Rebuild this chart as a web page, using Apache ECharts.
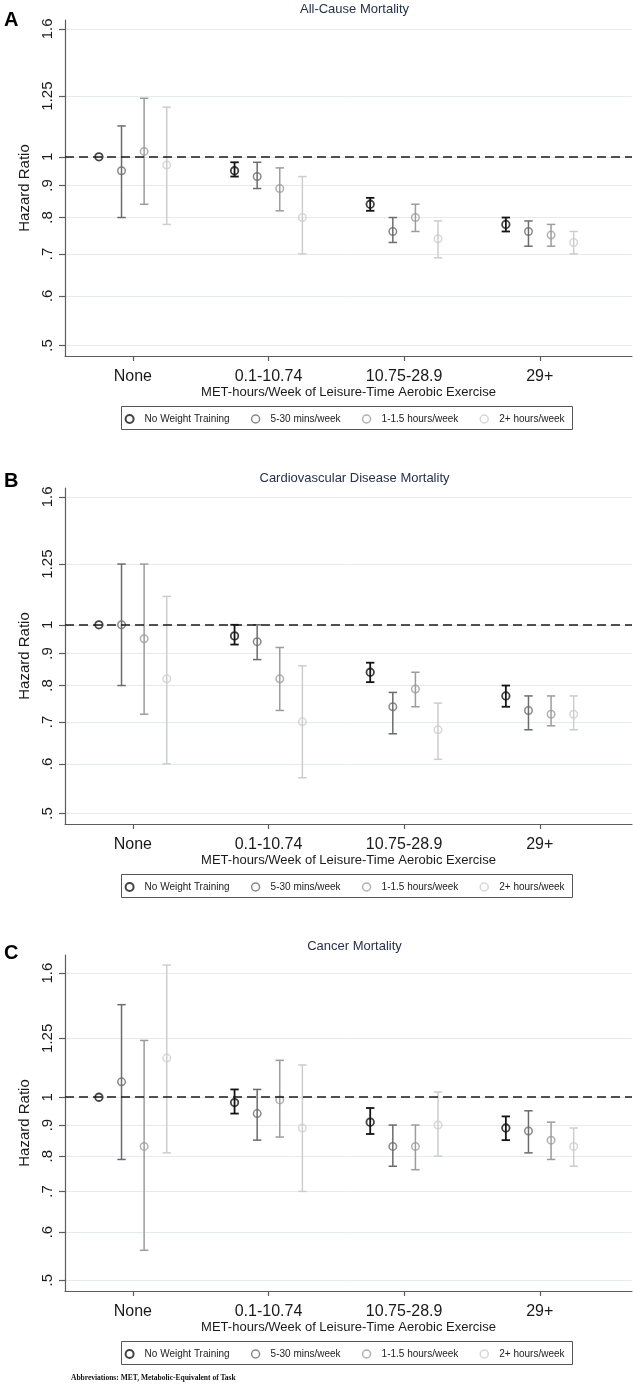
<!DOCTYPE html>
<html><head><meta charset="utf-8">
<script src="https://cdn.jsdelivr.net/npm/echarts@6/dist/echarts.min.js"></script>
<style>html,body{margin:0;padding:0;background:#fff;}#c{width:633px;height:1385px;}</style>
</head><body><div id="c"></div>
<script>
// ---- data ----
const categories = ['None', '0.1-10.74', '10.75-28.9', '29+'];
const groups = ['No Weight Training', '5-30 mins/week', '1-1.5 hours/week', '2+ hours/week'];
const yTicks = [0.5, 0.6, 0.7, 0.8, 0.9, 1, 1.25, 1.6];
const yTickLabels = ['.5', '.6', '.7', '.8', '.9', '1', '1.25', '1.6'];
const panelTitles = ['All-Cause Mortality', 'Cardiovascular Disease Mortality', 'Cancer Mortality'];
const panelLetters = ['A', 'B', 'C'];
const xTitle = 'MET-hours/Week of Leisure-Time Aerobic Exercise';
const yTitle = 'Hazard Ratio';
const footnote = 'Abbreviations: MET, Metabolic-Equivalent of Task';

// rows = weight-training groups, columns = aerobic categories
const allCauseHR   = [[1.00, 0.95, 0.84, 0.78], [0.95, 0.93, 0.76, 0.76], [1.02, 0.89, 0.80, 0.75], [0.97, 0.80, 0.74, 0.73]];
const allCauseLow  = [[null, 0.93, 0.82, 0.76], [0.80, 0.89, 0.73, 0.72], [0.84, 0.82, 0.76, 0.72], [0.78, 0.70, 0.69, 0.70]];
const allCauseHigh = [[null, 0.98, 0.86, 0.80], [1.12, 0.98, 0.80, 0.79], [1.24, 0.96, 0.84, 0.78], [1.20, 0.93, 0.79, 0.76]];

const cvdHR   = [[1.00, 0.96, 0.84, 0.77], [1.00, 0.94, 0.74, 0.73], [0.95, 0.82, 0.79, 0.72], [0.82, 0.70, 0.68, 0.72]];
const cvdLow  = [[null, 0.93, 0.81, 0.74], [0.80, 0.88, 0.67, 0.68], [0.72, 0.73, 0.74, 0.69], [0.60, 0.57, 0.61, 0.68]];
const cvdHigh = [[null, 1.00, 0.87, 0.80], [1.25, 1.00, 0.78, 0.77], [1.25, 0.92, 0.84, 0.77], [1.11, 0.86, 0.75, 0.77]];

const cancerHR   = [[1.00, 0.98, 0.91, 0.89], [1.06, 0.94, 0.83, 0.88], [0.83, 0.99, 0.83, 0.85], [1.16, 0.89, 0.90, 0.83]];
const cancerLow  = [[null, 0.94, 0.87, 0.85], [0.79, 0.85, 0.77, 0.81], [0.56, 0.86, 0.76, 0.79], [0.81, 0.70, 0.80, 0.77]];
const cancerHigh = [[null, 1.03, 0.96, 0.93], [1.42, 1.03, 0.90, 0.95], [1.24, 1.15, 0.90, 0.91], [1.65, 1.13, 1.02, 0.89]];

const panelHR = [allCauseHR, cvdHR, cancerHR];
const panelLow = [allCauseLow, cvdLow, cancerLow];
const panelHigh = [allCauseHigh, cvdHigh, cancerHigh];

// ---- styling / layout ----
const colors = ['#141414', '#6c6c6c', '#9c9c9c', '#cdcdcd'];
const lineW = [1.8, 1.5, 1.5, 1.5];
const offsets = [-0.25, -0.0833, 0.0833, 0.25];
const gridTops = [20, 488, 955];
const gridH = 336;
const yMins = [0.481, 0.481, 0.48];
const yMaxs = [1.653, 1.653, 1.714];
const titleY = [9.2, 478, 946];
const letterY = [20.5, 481, 953];
const FONT = '"Liberation Sans", Arial, sans-serif';
const axisColor = '#5c5c5c';

const grid = [], xAxis = [], yAxis = [], series = [], legend = [], graphic = [];

for (let p = 0; p < 3; p++) {
  const top = gridTops[p];
  const bottom = top + gridH;
  grid.push({ left: 65, right: 1, top: top, height: gridH });
  xAxis.push({
    gridIndex: p, type: 'value', min: 0.5, max: 4.68,
    axisLine: { show: true, onZero: false, lineStyle: { color: axisColor, width: 1.2 } },
    axisTick: { show: true, length: 5, customValues: [1, 2, 3, 4], lineStyle: { color: axisColor, width: 1.2 } },
    axisLabel: { customValues: [1, 2, 3, 4], formatter: v => categories[Math.round(v) - 1], fontSize: 16, color: '#1a1a1a', margin: 13, fontFamily: FONT },
    splitLine: { show: false },
    name: xTitle, nameLocation: 'middle', nameGap: 29.5,
    nameTextStyle: { fontSize: 13, color: '#1a1a1a', fontFamily: FONT }
  });
  yAxis.push({
    gridIndex: p, type: 'log', logBase: 10, min: yMins[p], max: yMaxs[p],
    axisLine: { show: true, onZero: false, lineStyle: { color: axisColor, width: 1.2 } },
    axisTick: { show: true, length: 6, customValues: yTicks, lineStyle: { color: axisColor, width: 1.2 } },
    axisLabel: {
      customValues: yTicks, rotate: 90, fontSize: 15, color: '#1a1a1a', margin: 10, fontFamily: FONT,
      formatter: v => { const i = yTicks.findIndex(t => Math.abs(t - v) < 1e-3); return i >= 0 ? yTickLabels[i] : ''; }
    },
    splitLine: { show: true, lineStyle: { color: '#e3ebee', width: 1 } },
    name: yTitle, nameLocation: 'middle', nameGap: 19,
    nameTextStyle: { fontSize: 15, color: '#1a1a1a', fontFamily: FONT }
  });

  for (let g = 0; g < 4; g++) {
    const hr = panelHR[p][g], lo = panelLow[p][g], hi = panelHigh[p][g];
    const pts = categories.map((c, ci) => [ci + 1 + offsets[g], hr[ci]]);
    const bars = [];
    categories.forEach((c, ci) => { if (lo[ci] != null) bars.push([ci + 1 + offsets[g], lo[ci], hi[ci]]); });
    const col = colors[g], lw = lineW[g];
    series.push({
      type: 'custom', xAxisIndex: p, yAxisIndex: p, silent: true, z: 2,
      encode: { x: 0, y: [1, 2] },
      data: bars,
      renderItem: (params, api) => {
        const x = api.value(0);
        const a = api.coord([x, api.value(1)]);
        const b = api.coord([x, api.value(2)]);
        const hw = 4.2;
        const st = { stroke: col, lineWidth: lw };
        return { type: 'group', children: [
          { type: 'line', shape: { x1: a[0], y1: a[1], x2: b[0], y2: b[1] }, style: st },
          { type: 'line', shape: { x1: a[0] - hw, y1: a[1], x2: a[0] + hw, y2: a[1] }, style: st },
          { type: 'line', shape: { x1: b[0] - hw, y1: b[1], x2: b[0] + hw, y2: b[1] }, style: st }
        ]};
      }
    });
    const sc = {
      type: 'scatter', name: groups[g], xAxisIndex: p, yAxisIndex: p, z: 3,
      data: pts, symbol: 'circle', symbolSize: 7.5,
      itemStyle: { color: 'rgba(255,255,255,0)', borderColor: col, borderWidth: lw }
    };
    if (g === 0) {
      sc.markLine = {
        silent: true, symbol: ['none', 'none'], label: { show: false },
        lineStyle: { color: '#1a1a1a', type: [9, 5], width: 1.5 },
        data: [{ yAxis: 1 }]
      };
    }
    series.push(sc);
  }

  legend.push({
    data: groups.map((n, g) => ({ name: n, icon: 'circle', itemStyle: { color: 'rgba(255,255,255,0)', borderColor: colors[g], borderWidth: g === 0 ? 2 : 1.5 } })),
    left: 124.6, top: bottom + 58, itemWidth: 20, itemHeight: 8, itemGap: 21.2, padding: 0,
    selectedMode: false, textStyle: { fontSize: 10, color: '#222', fontFamily: FONT }
  });

  graphic.push({ type: 'rect', silent: true, shape: { x: 121.5, y: bottom + 50.5, width: 451, height: 23 }, style: { fill: 'none', stroke: '#555', lineWidth: 1 } });
  graphic.push({ type: 'text', silent: true, x: 354.5, y: titleY[p], style: { text: panelTitles[p], font: '13px ' + FONT, fill: '#24324f', textAlign: 'center', textVerticalAlign: 'middle' } });
  graphic.push({ type: 'text', silent: true, x: 4, y: letterY[p], style: { text: panelLetters[p], font: 'bold 20px ' + FONT, fill: '#000', textAlign: 'left', textVerticalAlign: 'middle' } });
}
graphic.push({ type: 'text', silent: true, x: 71, y: 1378, style: { text: footnote, font: 'bold 7.5px "Liberation Serif", "Times New Roman", serif', fill: '#111', textAlign: 'left', textVerticalAlign: 'middle' } });

const chart = echarts.init(document.getElementById('c'), null, { renderer: 'canvas' });
chart.setOption({
  animation: false,
  textStyle: { fontFamily: FONT },
  grid, xAxis, yAxis, series, legend, graphic
});
</script></body></html>
